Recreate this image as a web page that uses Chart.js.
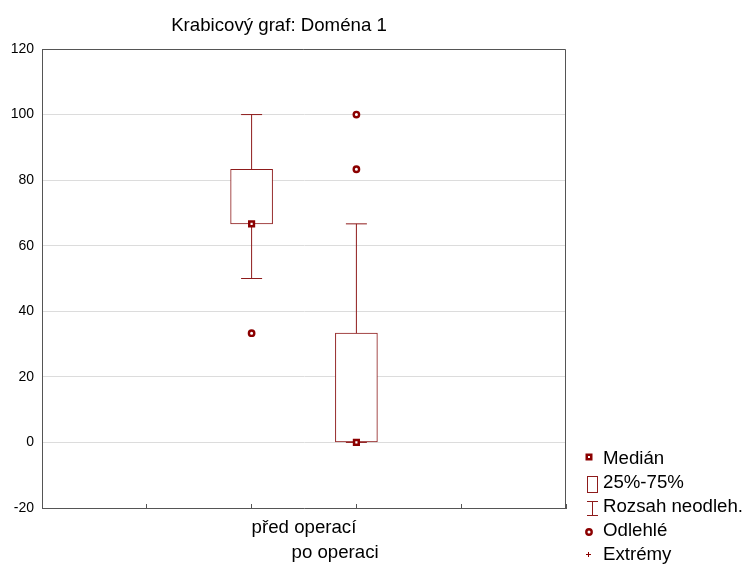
<!DOCTYPE html>
<html><head><meta charset="utf-8">
<script src="https://cdn.jsdelivr.net/npm/chart.js@4/dist/chart.umd.min.js"></script>
<style>
html,body{margin:0;padding:0;background:#fff;}
#wrap{position:relative;width:747px;height:565px;overflow:hidden;}
#c{position:absolute;left:0;top:0;}
.t{position:absolute;font-family:Arial,"Liberation Sans",sans-serif;font-size:18.67px;color:#000;white-space:nowrap;line-height:24px;}
#legsvg{position:absolute;left:0;top:0;}
</style></head><body>
<div id="wrap">
<canvas id="c" width="747" height="565"></canvas>
<div class="t" id="title" style="left:0;width:558px;top:12.5px;text-align:center"></div>
<svg id="legsvg" width="747" height="565"></svg>
<div class="t" id="legend" style="left:603px;top:446px;"></div>
</div>
<script>
// ---- data ----
const chartTitle = 'Krabicový graf: Doména 1';
const categories = ['před operací', 'po operaci'];
const q1 = [66.67, 0];
const q3 = [83.33, 33.33];
const medians = [66.67, 0];
const whiskerLow = [50, 0];
const whiskerHigh = [100, 66.67];
const outliers = [[33.33], [83.33, 100]];
const extremes = [[], []];
const yMin = -20, yMax = 120, yStep = 20;
const legendLabels = ['Medián', '25%-75%', 'Rozsah neodleh.', 'Odlehlé', 'Extrémy'];

// ---- styles ----
const RED = '#8B0000';
const BOX = '#8E1B1B';
const AXIS = '#555';
const FONT = 'Arial, "Liberation Sans", sans-serif';

document.getElementById('title').textContent = chartTitle;

// legend (HTML text + SVG symbols)
document.getElementById('legend').innerHTML = legendLabels.map(l => '<div>' + l + '</div>').join('');
document.getElementById('legsvg').innerHTML =
  '<rect x="586.75" y="454.75" width="4.5" height="4.5" fill="#fff" stroke="' + RED + '" stroke-width="2.5"/>' +
  '<rect x="587.5" y="476.5" width="10" height="16" fill="none" stroke="' + BOX + '" stroke-width="1"/>' +
  '<line x1="592.5" y1="501" x2="592.5" y2="516" stroke="' + BOX + '" stroke-width="1"/>' +
  '<line x1="587" y1="501.5" x2="598" y2="501.5" stroke="' + BOX + '" stroke-width="1"/>' +
  '<line x1="587" y1="515.5" x2="598" y2="515.5" stroke="' + BOX + '" stroke-width="1"/>' +
  '<circle cx="589" cy="532" r="2.7" fill="#fff" stroke="' + RED + '" stroke-width="2.4"/>' +
  '<line x1="586" y1="554.5" x2="591" y2="554.5" stroke="' + RED + '" stroke-width="1"/>' +
  '<line x1="588.5" y1="552" x2="588.5" y2="557" stroke="' + RED + '" stroke-width="1"/>';

// ---- datasets built from the arrays ----
const boxData = categories.map((c, i) => ({x: i, y: [q1[i], q3[i]]}));
const whiskerData = [];
categories.forEach((c, i) => {
  whiskerData.push({x: i, y: whiskerLow[i]}, {x: i, y: q1[i]}, {x: i, y: null});
  whiskerData.push({x: i, y: q3[i]}, {x: i, y: whiskerHigh[i]}, {x: i, y: null});
});
const capData = [];
categories.forEach((c, i) => {
  capData.push({x: i, y: whiskerLow[i]}, {x: i, y: whiskerHigh[i]});
});
const medianData = categories.map((c, i) => ({x: i, y: medians[i]}));
const outlierData = [];
outliers.forEach((arr, i) => arr.forEach(v => outlierData.push({x: i, y: v})));
const extremeData = [];
extremes.forEach((arr, i) => arr.forEach(v => extremeData.push({x: i, y: v})));

const frame = {
  id: 'frame',
  afterDraw(chart) {
    const {ctx, chartArea: a} = chart;
    ctx.save();
    ctx.strokeStyle = AXIS;
    ctx.lineWidth = 1;
    ctx.beginPath();
    ctx.moveTo(a.left, Math.round(a.top) + 0.5);
    ctx.lineTo(Math.round(a.right) - 0.5, Math.round(a.top) + 0.5);
    ctx.lineTo(Math.round(a.right) - 0.5, a.bottom);
    ctx.stroke();
    ctx.restore();
  }
};

new Chart(document.getElementById('c'), {
  type: 'scatter',
  data: {
    datasets: [
      {type: 'scatter', label: legendLabels[0], data: medianData, order: 0,
       pointStyle: 'rect', pointRadius: 3.3, pointBorderWidth: 2.5,
       pointBackgroundColor: '#fff', pointBorderColor: RED},
      {type: 'scatter', label: legendLabels[3], data: outlierData, order: 1,
       pointStyle: 'circle', pointRadius: 2.7, pointBorderWidth: 2.4,
       pointBackgroundColor: '#fff', pointBorderColor: RED},
      {type: 'scatter', label: legendLabels[4], data: extremeData, order: 1,
       pointStyle: 'cross', pointRadius: 3, pointBorderWidth: 1, pointBorderColor: RED},
      {type: 'scatter', label: 'caps', data: capData, order: 2,
       pointStyle: 'line', pointRadius: 10.5, pointBorderWidth: 1, pointBorderColor: BOX},
      {type: 'scatter', label: legendLabels[2], data: whiskerData, order: 3,
       showLine: true, spanGaps: false, borderColor: BOX, borderWidth: 1, pointRadius: 0},
      {type: 'bar', label: legendLabels[1], data: boxData, order: 4,
       backgroundColor: '#fff', borderColor: BOX, borderWidth: 1, borderSkipped: false,
       barThickness: 42}
    ]
  },
  options: {
    responsive: false,
    animation: false,
    devicePixelRatio: 1,
    layout: {padding: {top: 49, right: 181, bottom: 0, left: 0}},
    plugins: {legend: {display: false}, title: {display: false}, tooltip: {enabled: false}},
    scales: {
      x: {
        type: 'linear', min: -2, max: 3, offset: false,
        ticks: {stepSize: 1, display: false},
        grid: {drawOnChartArea: false, drawTicks: true, tickLength: -4, color: AXIS, offset: false},
        border: {color: AXIS},
        title: {display: true, text: [categories[0], ' '.repeat(12) + categories[1]],
                color: '#000', font: {family: FONT, size: 18.67, lineHeight: 1.34},
                padding: {top: 0, bottom: 0}},
        afterFit(s) { s.height = 57; }
      },
      y: {
        min: yMin, max: yMax,
        ticks: {stepSize: yStep, color: '#000', padding: 8, font: {family: FONT, size: 14}},
        grid: {color: '#dcdcdc', drawTicks: false},
        border: {color: AXIS},
        afterFit(s) { s.width = 42; }
      }
    }
  },
  plugins: [frame]
});
</script>
</body></html>
